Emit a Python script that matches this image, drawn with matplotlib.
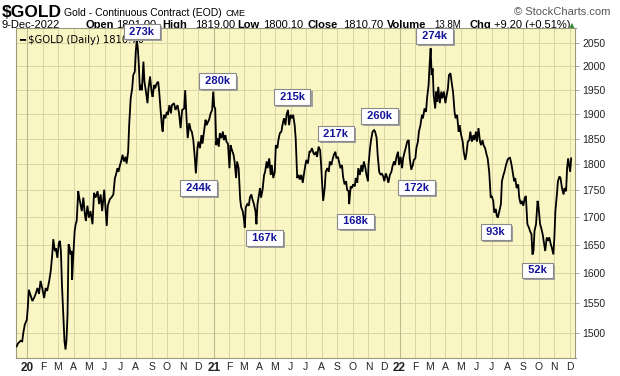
import pandas as pd
import matplotlib
matplotlib.use("Agg")
import matplotlib.pyplot as plt
import matplotlib.patheffects as pe
from matplotlib.ticker import FixedLocator, NullLocator

# daily closes, as day offsets from 2020-01-01
start = pd.Timestamp("2020-01-01")
day_offsets = [
    -21, -18, -13, -10, -8, -5, -1, 1, 3, 7, 10, 13, 16, 20, 23, 26, 30, 33, 36, 39,
    43, 46, 49, 51, 54, 56, 59, 62, 64, 66, 68, 71, 73, 75, 77, 79, 81, 83, 85, 87,
    88, 90, 93, 95, 97, 100, 102, 105, 107, 110, 113, 115, 118, 121, 124, 128, 131,
    134, 138, 141, 144, 147, 151, 154, 156, 158, 162, 165, 169, 172, 174, 177, 179,
    182, 185, 187, 190, 193, 195, 198, 200, 203, 206, 208, 211, 213, 215, 217, 219,
    221, 223, 225, 228, 230, 233, 236, 238, 241, 244, 246, 249, 251, 254, 257, 259,
    262, 265, 266, 268, 271, 274, 276, 279, 282, 284, 288,
    291, 295, 298, 301, 304, 308, 310, 313, 315, 318, 321, 323, 326, 329, 331, 334,
    336, 339, 342, 344, 347, 350, 352, 355, 357, 360, 363, 365, 367, 369, 371, 373,
    376, 378, 381, 384, 386, 389, 391, 394, 397, 399, 402, 405, 407, 410, 412, 415,
    418, 420, 423, 425, 427, 429, 432, 435, 437, 440, 442, 445,
    448, 450, 452, 454, 457, 459, 462, 465, 467, 470, 472, 475, 478, 480, 483, 486,
    488, 491, 493, 496, 499, 501, 504, 507, 509, 512, 514, 517, 520, 522, 525, 527,
    530, 533, 535, 538, 541, 543, 546, 548, 551, 554, 556, 559, 562, 564, 567, 569,
    572, 575, 577, 579, 581, 584, 586, 589, 592, 594, 597, 600, 602,
    605, 607, 610, 612, 615, 618, 620, 623, 626, 628, 631, 632, 635, 637, 640, 643,
    645, 648, 650, 653, 656, 658, 661, 664, 666, 669, 670, 673, 675, 678, 681, 683,
    686, 688, 691, 694, 696, 699, 701, 704, 707, 709, 712, 715, 717, 720, 722, 725,
    728, 730, 733, 736, 738, 741, 743, 746, 749, 751, 754, 757, 759,
    762, 764, 767, 769, 772, 775, 777, 780, 783, 785, 788, 790, 792, 794, 796, 798,
    801, 803, 805, 807, 810, 813, 815, 818, 821, 823, 826, 828, 831, 834, 836, 839,
    841, 844, 847, 849, 852, 855, 857, 860, 862, 865, 868, 870, 873, 876, 878, 881,
    883, 886, 889, 891, 894, 896, 899, 902, 904, 907, 910, 912, 915, 917, 920, 922, 924,
    927, 930, 932, 935, 937, 940, 943, 945, 948, 951, 953, 956, 958, 961, 964, 966,
    969, 971, 974, 977, 979, 982, 985, 987, 990, 992, 994, 996, 999, 1002, 1004, 1007,
    1009, 1012, 1015, 1017, 1020, 1023, 1025, 1028, 1030, 1033, 1035, 1037, 1040,
    1042, 1045, 1047, 1050, 1053, 1055, 1058, 1060, 1062, 1064, 1066, 1068,
]
closes = [
    1479, 1484, 1488, 1487, 1500, 1514, 1522, 1542, 1572, 1561, 1553, 1558, 1564, 1575, 1565, 1587, 1572, 1558, 1575, 1570,
    1587, 1604, 1633, 1660, 1639, 1644, 1627, 1654, 1657, 1639, 1581, 1525, 1487, 1474, 1490, 1531, 1651, 1645, 1633, 1639,
    1589, 1627, 1675, 1687, 1693, 1748, 1736, 1721, 1711, 1736, 1705, 1693, 1721, 1699, 1711, 1687, 1745,
    1736, 1748, 1724, 1742, 1711, 1751, 1711, 1684, 1721, 1733, 1736, 1742, 1773, 1779, 1792, 1785,
    1798, 1808, 1818, 1805, 1814, 1801, 1824, 1877, 1932, 1953, 1981, 1988, 2032, 2058, 2039, 2003,
    1949, 1960, 1949, 2010, 1967, 1946, 1922, 1953, 1978, 1946, 1935, 1960, 1953, 1963, 1967, 1946,
    1904, 1867, 1864, 1898, 1891, 1904, 1898, 1918, 1901, 1918, 1922,
    1908, 1918, 1901, 1871, 1908, 1911, 1949, 1884, 1851, 1881, 1867, 1864, 1847, 1811, 1782, 1831,
    1844, 1831, 1857, 1840, 1864, 1888, 1877, 1884, 1888, 1901, 1908, 1946, 1915, 1911, 1837, 1851,
    1834, 1861, 1851, 1864, 1847, 1857, 1844, 1840, 1792, 1837, 1827, 1818, 1805, 1773, 1805, 1792,
    1733, 1718, 1711, 1699, 1681, 1718, 1724, 1721, 1736, 1742, 1733, 1724,
    1711, 1687, 1724, 1736, 1754, 1736, 1751, 1779, 1785, 1805, 1792, 1811, 1779, 1798, 1773, 1785,
    1837, 1831, 1847, 1861, 1864, 1877, 1891, 1877, 1898, 1908, 1877, 1898, 1891, 1898, 1877, 1851,
    1773, 1779, 1770, 1779, 1764, 1779, 1798, 1808, 1801, 1824, 1824, 1831, 1821, 1818, 1824, 1814,
    1834, 1827, 1798, 1761, 1730, 1754, 1785, 1792, 1785, 1805, 1798, 1811, 1818,
    1824, 1811, 1814, 1805, 1792, 1798, 1776, 1761, 1767, 1751, 1748, 1724, 1757, 1754, 1761, 1757,
    1773, 1764, 1792, 1779, 1798, 1785, 1805, 1792, 1779, 1767, 1798, 1831, 1847, 1864, 1867, 1864,
    1851, 1818, 1785, 1779, 1782, 1776, 1767, 1782, 1773, 1764, 1779, 1785, 1795, 1805, 1798, 1814,
    1824, 1798, 1814, 1792, 1811, 1824, 1831, 1844, 1847, 1811, 1789, 1798, 1808,
    1811, 1831, 1844, 1864, 1877, 1898, 1891, 1911, 1904, 1932, 1960, 2003, 2039, 1981, 1995, 1939,
    1911, 1946, 1925, 1956, 1922, 1946, 1932, 1946, 1922, 1935, 1953, 1981, 1985, 1960, 1946, 1904,
    1891, 1898, 1864, 1877, 1857, 1844, 1824, 1808, 1818, 1844, 1847, 1864, 1844, 1857, 1847, 1864,
    1844, 1871, 1844, 1837, 1847, 1837, 1831, 1818, 1811, 1785, 1736, 1739, 1730, 1708, 1715, 1702, 1699,
    1711, 1724, 1767, 1779, 1785, 1798, 1808, 1811, 1812, 1798, 1785, 1767, 1773, 1754, 1761, 1736,
    1724, 1730, 1721, 1736, 1739, 1687, 1681, 1675, 1669, 1633, 1639, 1675, 1687, 1730, 1718, 1687,
    1681, 1669, 1651, 1639, 1663, 1657, 1663, 1651, 1645, 1633, 1663, 1711, 1742,
    1767, 1776, 1773, 1754, 1742, 1754, 1748, 1792, 1811, 1798, 1785, 1811,
]

price_ticks = [1500, 1550, 1600, 1650, 1700, 1750, 1800, 1850, 1900, 1950, 2000, 2050]

# volume call-outs
note_labels = ["273k", "280k", "244k", "167k", "215k", "217k",
               "168k", "260k", "172k", "274k", "93k", "52k"]
note_days = [225, 373, 336, 466, 520, 606, 645, 691, 764, 799, 920, 1002]
note_prices = [2076, 1968, 1754, 1662, 1935, 1860, 1692, 1896, 1755, 2066, 1673, 1605]

W, H = 620, 376
bg = "#FAF6C4"
grid_c = "#D8D4A6"
year_c = "#BDB98E"
sans = "Liberation Sans"

dates = start + pd.to_timedelta(day_offsets, unit="D")

fig = plt.figure(figsize=(W / 100, H / 100), dpi=100)
ax = fig.add_axes([15.7 / W, 1 - 358 / H, (575.5 - 15.7) / W, (358 - 27.5) / H])
ax.set_facecolor(bg)

ax.plot(dates, closes, color="black", lw=1.3, zorder=3, solid_joinstyle="miter")

ax.set_yscale("log")
ax.set_ylim(1460.6, 2085.2)
ax.set_xlim(start - pd.Timedelta(days=22.8), start + pd.Timedelta(days=1076.5))

# y axis on the right
ax.yaxis.tick_right()
ax.yaxis.set_major_locator(FixedLocator(price_ticks))
ax.yaxis.set_minor_locator(NullLocator())
ax.set_yticks(price_ticks)
ax.set_yticklabels([str(p) for p in price_ticks], fontsize=7.5, family=sans, color="#222222")
ax.tick_params(axis="y", length=3, width=0.6, color="#999999", pad=2)

# month ticks
months = pd.date_range("2020-01-01", "2022-12-01", freq="MS")
mlabels = [f"{m.year % 100}" if m.month == 1 else m.strftime("%b")[0] for m in months]
ax.set_xticks(months)
ax.set_xticklabels(mlabels, fontsize=7.5, family=sans, color="#222222")
ax.xaxis.set_minor_locator(NullLocator())
for lab, m in zip(ax.get_xticklabels(), months):
    if m.month == 1:
        lab.set_fontweight("bold")
        lab.set_fontsize(8.5)
ax.tick_params(axis="x", length=0, pad=3)

# grid
for p in price_ticks:
    ax.axhline(p, color=grid_c, lw=0.7, zorder=1)
for m in months:
    ax.axvline(m, color=year_c if m.month == 1 else grid_c, lw=0.8 if m.month == 1 else 0.7, zorder=1)

for s in ax.spines.values():
    s.set_color("#9a9a80")
    s.set_linewidth(0.8)

# legend line inside plot
ax.text(0.006, 0.978, "\u2501 $GOLD (Daily) 1810.70", transform=ax.transAxes,
        fontsize=7.2, family="DejaVu Sans", va="top", ha="left", color="black", zorder=4)

# call-out boxes with drop shadow
for lab, d, p in zip(note_labels, note_days, note_prices):
    x = start + pd.Timedelta(days=d)
    t = ax.text(x, p, f" {lab} ", ha="center", va="center", fontsize=8, family=sans,
                fontweight="bold", color="#14149a", zorder=7, clip_on=False,
                bbox=dict(boxstyle="square,pad=0.25", fc="white", ec="#8a8a8a", lw=0.8))
    t.get_bbox_patch().set_path_effects([
        pe.SimplePatchShadow(offset=(1.5, -1.5), shadow_rgbFace="#a0a0a0", alpha=1.0),
        pe.Normal(),
    ])

# header
def hdr(x, y, s, **kw):
    fig.text(x / W, 1 - y / H, s, va="baseline", ha=kw.pop("ha", "left"), zorder=-1, **kw)

hdr(2, 17, "$GOLD", fontsize=12.5, family=sans, fontweight="bold")
hdr(64, 16, "Gold - Continuous Contract (EOD)", fontsize=7.5, family=sans)
hdr(226, 16, "CME", fontsize=6.5, family=sans)
hdr(610, 15, "\u00a9 StockCharts.com", fontsize=8, family=sans, color="#555555", ha="right")

y2 = 28
hdr(2, y2, "9-Dec-2022", fontsize=8, family=sans)
hdr(86, y2, "Open", fontsize=8, family=sans, fontweight="bold")
hdr(116, y2, "1801.00", fontsize=8, family=sans)
hdr(162, y2, "High", fontsize=8, family=sans, fontweight="bold")
hdr(195, y2, "1819.00", fontsize=8, family=sans)
hdr(237, y2, "Low", fontsize=8, family=sans, fontweight="bold")
hdr(263, y2, "1800.10", fontsize=8, family=sans)
hdr(307, y2, "Close", fontsize=8, family=sans, fontweight="bold")
hdr(343, y2, "1810.70", fontsize=8, family=sans)
hdr(387, y2, "Volume", fontsize=8, family=sans, fontweight="bold")
hdr(434, y2, "13.8M", fontsize=7, family=sans)
hdr(470, y2, "Chg", fontsize=8, family=sans, fontweight="bold")
hdr(494, y2, "+9.20 (+0.51%)", fontsize=8, family=sans)
hdr(569, y2, "\u25b2", fontsize=5.5, family="DejaVu Sans", color="#2e8b2e")

fig.savefig("out.png", dpi=100)
